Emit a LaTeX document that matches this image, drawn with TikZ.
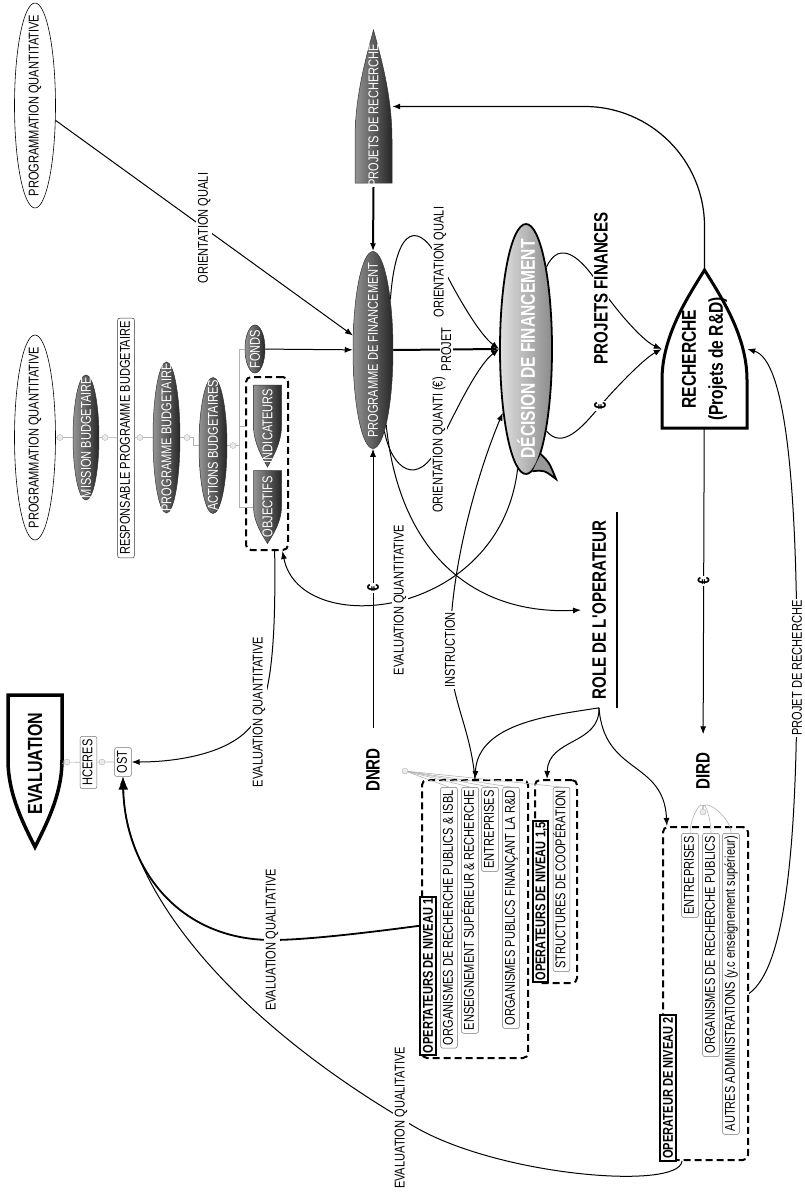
\documentclass[tikz,border=0pt]{standalone}
\usepackage{fontspec}
\usepackage{graphicx}
\setmainfont[FakeStretch=0.78]{Liberation Sans}
\usetikzlibrary{arrows.meta,shapes.geometric}
\newcommand\vtext[1]{\rotatebox{90}{#1}}
% ogive outline: centre, half length, half width, start of the curve, direction (1 = tip on top), options
\newcommand\drawogive[6]{%
  \path[#6,shift={#1},yscale={-1*(#5)}]
    (-#3,-#2) -- (#3,-#2) -- (#3,#4)
    .. controls (#3,{(#4)+0.4*((#2)-(#4))}) and ({0.4*#3},{(#2)-0.25*((#2)-(#4))}) .. (0,#2)
    .. controls ({-0.4*#3},{(#2)-0.25*((#2)-(#4))}) and (-#3,{(#4)+0.4*((#2)-(#4))}) .. (-#3,#4) -- cycle;}
\begin{document}
\begin{tikzpicture}[x=1pt,y=-1pt,
  font=\fontsize{14.2}{16}\selectfont,
  >={Latex[length=8pt,width=6pt]},
  arr/.style={->,line width=1pt},
  lnk/.style={draw=black!30,line width=.6pt},
  dot/.style={circle,draw=black!30,fill=black!8,inner sep=0pt,minimum size=6pt},
  darkfill/.style={draw=black!80,line width=.5pt,left color=black!42,right color=black!85},
  oval/.style={ellipse,draw,line width=.6pt,rotate=90,inner sep=-40pt},
  dark/.style={ellipse,darkfill,text=white,inner sep=-40pt},
  bul/.style={rectangle,text=white,rotate=90,inner sep=0pt},
  item/.style={rectangle,rounded corners=2pt,draw=black!55,line width=.5pt,fill=white,rotate=90,
    inner xsep=3pt,inner ysep=2pt,text height=10.2pt,text depth=2.5pt},
  head/.style={rectangle,draw,line width=2pt,fill=white,rotate=90,inner xsep=2pt,inner ysep=2.5pt,
    text height=10.2pt,text depth=.5pt,font=\bfseries\fontsize{14.2}{16}\selectfont},
  dbox/.style={rectangle,rounded corners=5pt,draw,line width=2pt,dash pattern=on 7pt off 4pt},
  lbl/.style={fill=white,inner sep=1.5pt,rotate=90},
  lblb/.style={lbl,font=\bfseries\fontsize{19.4}{21}\selectfont},
  eur/.style={lbl,font=\bfseries\fontsize{16.8}{17}\selectfont},
  big/.style={rotate=90,font=\bfseries\fontsize{19.4}{21}\selectfont}]
\useasboundingbox (0,0) rectangle (804,1194);

% budget side
\node[oval,minimum width=205pt,minimum height=41pt] (pq1) at (35,105.5) {PROGRAMMATION QUANTITATIVE};
\node[oval,minimum width=205pt,minimum height=41pt] (pq2) at (35,437.5) {PROGRAMMATION QUANTITATIVE};
\node[dark,minimum width=26pt,minimum height=125pt] (mission) at (86,437.5) {\vtext{MISSION BUDGETAIRE}};
\node[item,draw=black!80] (resp) at (126,438) {RESPONSABLE PROGRAMME BUDGETAIRE};
\node[dark,minimum width=27pt,minimum height=151pt] (progbud) at (166.5,437.5) {\vtext{PROGRAMME BUDGETAIRE}};
\node[dark,minimum width=28pt,minimum height=136pt] (actions) at (213,445.5) {\vtext{ACTIONS BUDGETAIRES}};
\node[dark,minimum width=20pt,minimum height=48pt] (fonds) at (255,349) {\vtext{FONDS}};
\node[dbox,minimum width=42pt,minimum height=173pt] (indbox) at (267,463.5) {};
\drawogive{(267.5,426)}{41}{14}{0}{-1}{darkfill}
\node[bul,minimum width=82pt,minimum height=28pt] (ind) at (267.5,426) {INDICATEURS};
\drawogive{(267.5,507)}{36.5}{14}{0}{-1}{darkfill}
\node[bul,minimum width=73pt,minimum height=28pt] (obj) at (267.5,507) {OBJECTIFS};

% financing
\drawogive{(373.5,106.5)}{76.5}{18.5}{-33}{1}{darkfill}
\node[bul,minimum width=153pt,minimum height=37pt] (pdr) at (373.5,106.5) {PROJETS DE RECHERCHE\hspace*{18pt}};
\node[dark,minimum width=40pt,minimum height=197pt] (pdf) at (373,350) {\vtext{PROGRAMME DE FINANCEMENT}};
\node[ellipse,draw,line width=1.8pt,left color=black!12,right color=black!45,text=white,
  inner sep=-40pt,minimum width=52pt,minimum height=250pt,font=\bfseries\fontsize{20}{21}\selectfont]
  (dec) at (526,349) {\vtext{DÉCISION DE FINANCEMENT}};
\fill[black!40] (dec.-82) .. controls (549,462) .. (556,479) .. controls (544,470) .. (dec.-87) -- cycle;
\draw[line width=1.8pt] (dec.-82) .. controls (549,462) .. (556,479) .. controls (544,470) .. (dec.-87);
\drawogive{(704.5,349)}{79}{42.5}{-31}{1}{draw,line width=3pt,fill=white}
\node[bul,text=black,align=center,minimum width=158pt,minimum height=85pt,
  font=\bfseries\fontsize{20}{27}\selectfont] (rech) at (704.5,349)
  {RECHERCHE\hspace*{20pt}\\(Projets de R\&D)\hspace*{20pt}};

% evaluation
\drawogive{(35,771)}{76}{27}{-11}{-1}{draw,line width=3.5pt,fill=white}
\node[bul,text=black,minimum width=152pt,minimum height=54pt,font=\bfseries\fontsize{20.5}{21}\selectfont]
  (evalnode) at (35,771) {\hspace*{15pt}EVALUATION};
\node[item] (hceres) at (88.5,762.5) {HCERES};
\node[item] (ost) at (123,762) {OST};

\node[big,inner xsep=20pt] (dnrd) at (373,770) {DNRD};
\node[big,inner xsep=18pt] (dird) at (703,771) {DIRD};
\node[big,inner xsep=8pt,inner ysep=11pt,text depth=0pt] (role) at (599,610) {ROLE DE L\textquotesingle OPERATEUR};
\draw[line width=1.5pt] (role.south west) -- (role.south east);

% operators
\node[dbox,minimum width=106pt,minimum height=278pt] (op1box) at (475,919) {};
\node[dbox,minimum width=42pt,minimum height=203pt] (op15box) at (556,881.5) {};
\node[dbox,minimum width=85pt,minimum height=333pt] (op2box) at (705.5,993.5) {};
\node[head] (op1hd) at (428,976) {OPERTATEURS DE NIVEAU 1};
\node[head] (op15hd) at (540.5,901.5) {OPERATEURS DE NIVEAU 1,5};
\node[head] (op2hd) at (668,1088) {OPERATEUR DE NIVEAU 2};
\foreach \n/\x/\y/\t in {op1a/449/787/ORGANISMES DE RECHERCHE PUBLICS \& ISBL,
    op1b/470/787/ENSEIGNEMENT SUPÉRIEUR \& RECHERCHE,
    op1c/490/787/ENTREPRISES,
    op1d/511/787/ORGANISMES PUBLICS FINANÇANT LA R\&D,
    op15a/561.5/787/STRUCTURES DE COOPÉRATION,
    op2a/690/833/ENTREPRISES,
    op2b/711/833/ORGANISMES DE RECHERCHE PUBLICS,
    op2c/731/833/AUTRES ADMINISTRATIONS (y.c enseignement supérieur)}
  \node[item,anchor=east] (\n) at (\x,\y) {\t};

% map links
\foreach \i/\x/\y in {1/60/437.5,2/105/437.5,3/140/437.5,4/187/437.5,5/233/445.5,6/67/762,7/102/762,8/405/771,9/703/812}
  \node[dot] (d\i) at (\x,\y) {};
\draw[lnk] (pq2) -- (d1) -- (mission) -- (d2) -- (resp) -- (d3) -- (progbud) -- (d4);
\draw[lnk] (d4.east) -- ++(3,0) |- (actions.west);
\draw[lnk] (actions) -- (d5) (d5.east) -- ++(3,0) coordinate (br);
\draw[lnk] (fonds.west) -| (br) |- (obj.north);
\draw[lnk] (br |- ind.north) -- (indbox.west |- ind.north);
\draw[lnk] (evalnode) -- (d6) -- (hceres) -- (d7) -- (ost);
\foreach \t in {op1a,op1b,op1c,op1d,op15a}
  \draw[lnk] (d8) -- (\t.east);
\foreach \t in {op2a,op2b,op2c}
  \draw[lnk] (d9) .. controls +(0,-16) and +(0,-16) .. (\t.east);

% connectors
\draw[arr] (pq1) -- node[lbl]{ORIENTATION QUALI} (pdf);
\draw[arr] (fonds) -- (pdf);
\draw[arr,line width=2pt] (pdr.west) -- (pdf.north);
\draw[arr,line width=2pt] (pdf.east) -- node[lbl]{PROJET} (dec.west);
\draw[arr] (pdf.71) .. controls (396,222) and (420,222) .. (440,262) node[lbl]{ORIENTATION QUALI}
  .. controls (458,298) and (480,335) .. (dec.west);
\draw[arr] (pdf.-82) .. controls (392,470) and (418,488) .. (439,445) node[lbl]{ORIENTATION QUANTI (€)}
  .. controls (456,410) and (478,365) .. (dec.west);
\draw[arr] (pdf.-80) .. controls (400,560) and (480,615) .. (role.north);
\draw[arr] (dec.-94) .. controls (500,620) and (300,640) .. (indbox.-80)
  node[lbl,pos=.5]{EVALUATION QUANTITATIVE};
\draw[arr] (op1box.north) .. controls (470,725) and (450,700) .. (450,650) node[lbl]{INSTRUCTION}
  .. controls (450,560) and (482,462) .. (dec.-110);
\draw[arr] (role.west) .. controls (555,715) and (478,722) .. (op1box.north);
\draw[arr] (role.west) .. controls (600,745) and (548,738) .. (op15box.95);
\draw[arr] (role.west) .. controls (604,775) and (664,760) .. (op2box.103);
\draw[arr] (dnrd) -- node[eur]{€} (pdf);
\draw[arr] (rech) -- node[eur]{€} (dird);
\draw[arr,line width=1.2pt,rounded corners=120pt] (rech.east) |- (pdr.south);
\draw[arr] (dec.76) .. controls (560,238) and (582,258) .. (601,288) node[lblb]{PROJETS FINANCES}
  .. controls (622,318) and (645,342) .. (rech.north);
\draw[arr] (dec.-76) .. controls (562,450) and (582,428) .. (600,406) node[eur]{€}
  .. controls (620,383) and (645,358) .. (rech.north);
\draw[arr] (op2box.east) .. controls (785,968) and (797,850) .. (797,668) node[lbl]{PROJET DE RECHERCHE}
  .. controls (797,480) and (785,360) .. (rech.south);
\draw[line width=1.8pt,-{Latex[length=13pt,width=10pt]}] (op1hd.10) .. controls (350,935) and (300,940) .. (272,940)
  node[lbl]{EVALUATION QUALITATIVE} .. controls (180,940) and (125,870) .. (ost.west);
\draw[arr] (op2box.-98) .. controls (680,1192) and (480,1175) .. (401,1118) node[lbl]{EVALUATION QUALITATIVE}
  .. controls (220,1010) and (122,880) .. (ost.west);
\draw[arr] (indbox.-85) .. controls (276,640) and (271,690) .. (259,712) node[lbl]{EVALUATION QUANTITATIVE}
  .. controls (245,752) and (180,762) .. (ost.south);
\end{tikzpicture}
\end{document}
